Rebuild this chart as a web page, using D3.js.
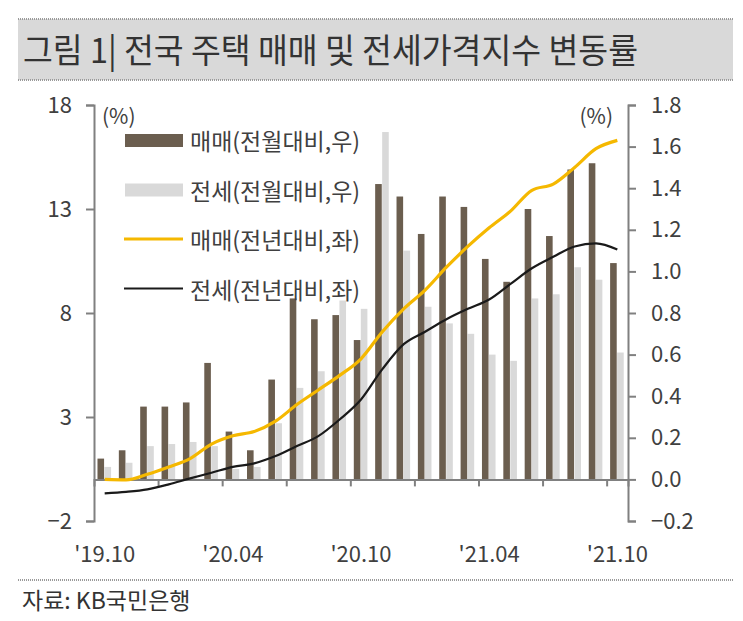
<!DOCTYPE html>
<html>
<head>
<meta charset="utf-8">
<script src="https://cdn.jsdelivr.net/npm/d3@7"></script>
<style>
  body { margin: 0; background: #fff; }
  svg text { font-family: "Noto Sans CJK KR", "Noto Sans", sans-serif; }
</style>
</head>
<body>
<script>
// months from '19.10 to '21.10
var months = ["19.10","19.11","19.12","20.01","20.02","20.03","20.04","20.05","20.06","20.07","20.08","20.09",
              "20.10","20.11","20.12","21.01","21.02","21.03","21.04","21.05","21.06","21.07","21.08","21.09","21.10"]

// 매매 전월대비 (right axis, %)
var saleMoM = [0.10,0.14,0.35,0.35,0.37,0.56,0.23,0.14,0.48,0.87,0.77,0.79,0.67,1.42,1.36,1.18,1.36,1.31,1.06,0.95,1.30,1.17,1.49,1.52,1.04]
// 전세 전월대비 (right axis, %)
var rentMoM = [0.06,0.08,0.16,0.17,0.18,0.16,0.05,0.06,0.27,0.44,0.52,0.86,0.82,1.67,1.10,0.83,0.75,0.70,0.60,0.57,0.87,0.89,1.02,0.96,0.61]
// 매매 전년대비 (left axis, %)
var saleYoY = [0.0,-0.02,0.25,0.6,1.0,1.7,2.1,2.3,2.8,3.6,4.3,5.0,5.8,7.1,8.2,9.1,10.2,11.2,12.1,12.9,13.9,14.2,15.0,15.9,16.3]
// 전세 전년대비 (left axis, %)
var rentYoY = [-0.67,-0.6,-0.48,-0.24,0.05,0.32,0.6,0.77,1.12,1.6,2.08,2.88,3.84,5.3,6.5,7.1,7.7,8.2,8.65,9.4,10.15,10.7,11.2,11.35,11.05]

var leftTicks = [-2, 3, 8, 13, 18]
var rightTicks = [-0.2, 0, 0.2, 0.4, 0.6, 0.8, 1.0, 1.2, 1.4, 1.6, 1.8]
var labelMonths = ["19.10", "20.04", "20.10", "21.04", "21.10"]

var legendItems = [
  {label: "매매(전월대비,우)", type: "bar", color: "#6b5e4f"},
  {label: "전세(전월대비,우)", type: "bar", color: "#d9d9d9"},
  {label: "매매(전년대비,좌)", type: "line", color: "#f5b800"},
  {label: "전세(전년대비,좌)", type: "line", color: "#1a1a1a"}
]

var width = 743
var height = 621
var plotLeft = 94, plotRight = 628, plotTop = 105, plotBottom = 521

var svg = d3.select("body").append("svg")
    .attr("width", width)
    .attr("height", height)

// title block
svg.append("rect")
    .attr("x", 18).attr("y", 19).attr("width", 715).attr("height", 61)
    .attr("fill", "#d9d9d9")
svg.selectAll("line.sep").data([19, 80, 580]).enter()
    .append("line")
    .attr("class", "sep")
    .attr("x1", 18).attr("x2", 733)
    .attr("y1", function(d){ return d }).attr("y2", function(d){ return d })
    .attr("stroke", "#9a9a9a").attr("stroke-width", 2).attr("stroke-dasharray", "1,1")

svg.append("text")
    .attr("x", 23).attr("y", 48)
    .attr("dominant-baseline", "central")
    .attr("font-size", 34)
    .attr("textLength", 615)
    .attr("lengthAdjust", "spacingAndGlyphs")
    .attr("fill", "#333")
    .text("그림 1| 전국 주택 매매 및 전세가격지수 변동률")

svg.append("text")
    .attr("x", 22).attr("y", 599)
    .attr("dominant-baseline", "central")
    .attr("font-size", 23)
    .attr("fill", "#333")
    .text("자료: KB국민은행")

// scales
var x = d3.scaleBand().domain(months).range([plotLeft, plotRight]).padding(0)
var xi = d3.scaleLinear().domain([0, months.length]).range([plotLeft, plotRight])
var yL = d3.scaleLinear().domain([-2, 18]).range([plotBottom, plotTop])
var yR = d3.scaleLinear().domain([-0.2, 1.8]).range([plotBottom, plotTop])

var bw = 6.6

// bars
svg.append("g").selectAll("rect").data(rentMoM).enter()
    .append("rect")
    .attr("x", function(d, i){ return x(months[i]) + x.bandwidth() / 2 - 0.2 })
    .attr("y", function(d){ return yR(d) })
    .attr("width", bw)
    .attr("height", function(d){ return yR(0) - yR(d) })
    .attr("fill", legendItems[1].color)

svg.append("g").selectAll("rect").data(saleMoM).enter()
    .append("rect")
    .attr("x", function(d, i){ return x(months[i]) + x.bandwidth() / 2 - bw - 0.6 })
    .attr("y", function(d){ return yR(d) })
    .attr("width", bw)
    .attr("height", function(d){ return yR(0) - yR(d) })
    .attr("fill", legendItems[0].color)

// axes
var axisColor = "#808080"
function styleAxis(g) {
  g.select(".domain").attr("stroke", axisColor).attr("stroke-width", 2)
  g.selectAll(".tick line").attr("stroke", axisColor).attr("stroke-width", 2)
  g.selectAll(".tick text").attr("fill", "#404040").attr("font-size", 22)
      .style("font-family", '"Noto Sans CJK KR", sans-serif')
}

svg.append("g")
    .attr("transform", "translate(" + plotLeft + ",0)")
    .call(d3.axisLeft(yL).tickValues(leftTicks).tickSizeOuter(0).tickSize(8).tickPadding(14))
    .call(styleAxis)

svg.append("g")
    .attr("transform", "translate(" + plotRight + ",0)")
    .call(d3.axisRight(yR).tickValues(rightTicks).tickFormat(d3.format(".1f")).tickSizeOuter(0).tickSize(8).tickPadding(15))
    .call(styleAxis)

svg.append("g")
    .attr("transform", "translate(0," + yL(0) + ")")
    .call(d3.axisBottom(xi).tickValues(d3.range(3, months.length, 3)).tickFormat("").tickSizeOuter(0).tickSize(7))
    .call(styleAxis)

// x labels
svg.append("g").selectAll("text").data(labelMonths).enter()
    .append("text")
    .attr("x", function(d){ return x(d) + x.bandwidth() / 2 })
    .attr("y", 552)
    .attr("text-anchor", "middle")
    .attr("dominant-baseline", "central")
    .attr("font-size", 22)
    .attr("fill", "#404040")
    .text(function(d){ return "'" + d })

// unit labels
svg.append("text").attr("x", 102).attr("y", 115)
    .attr("dominant-baseline", "central").attr("font-size", 21).attr("fill", "#404040").text("(%)")
svg.append("text").attr("x", 613).attr("y", 115).attr("text-anchor", "end")
    .attr("dominant-baseline", "central").attr("font-size", 21).attr("fill", "#404040").text("(%)")

// lines
var line = d3.line()
    .x(function(d, i){ return x(months[i]) + x.bandwidth() / 2 })
    .y(function(d){ return yL(d) })
    .curve(d3.curveMonotoneX)

svg.append("path").datum(rentYoY)
    .attr("d", line)
    .attr("fill", "none")
    .attr("stroke", legendItems[3].color)
    .attr("stroke-width", 2.2)

svg.append("path").datum(saleYoY)
    .attr("d", line)
    .attr("fill", "none")
    .attr("stroke", legendItems[2].color)
    .attr("stroke-width", 3.2)

// legend
var legend = svg.append("g").selectAll("g").data(legendItems).enter()
    .append("g")
    .attr("transform", function(d, i){ return "translate(124," + (140 + i * 49.5) + ")" })

legend.filter(function(d){ return d.type == "bar" }).append("rect")
    .attr("x", 1).attr("y", -6).attr("width", 58).attr("height", 13)
    .attr("fill", function(d){ return d.color })

legend.filter(function(d){ return d.type == "line" }).append("line")
    .attr("x1", 0).attr("x2", 59).attr("y1", 0).attr("y2", 0)
    .attr("stroke", function(d){ return d.color })
    .attr("stroke-width", function(d, i){ return i == 0 ? 3.2 : 2.2 })

legend.append("text")
    .attr("x", 66).attr("y", 0)
    .attr("dominant-baseline", "central")
    .attr("font-size", 23)
    .attr("fill", "#404040")
    .text(function(d){ return d.label })
</script>
</body>
</html>
